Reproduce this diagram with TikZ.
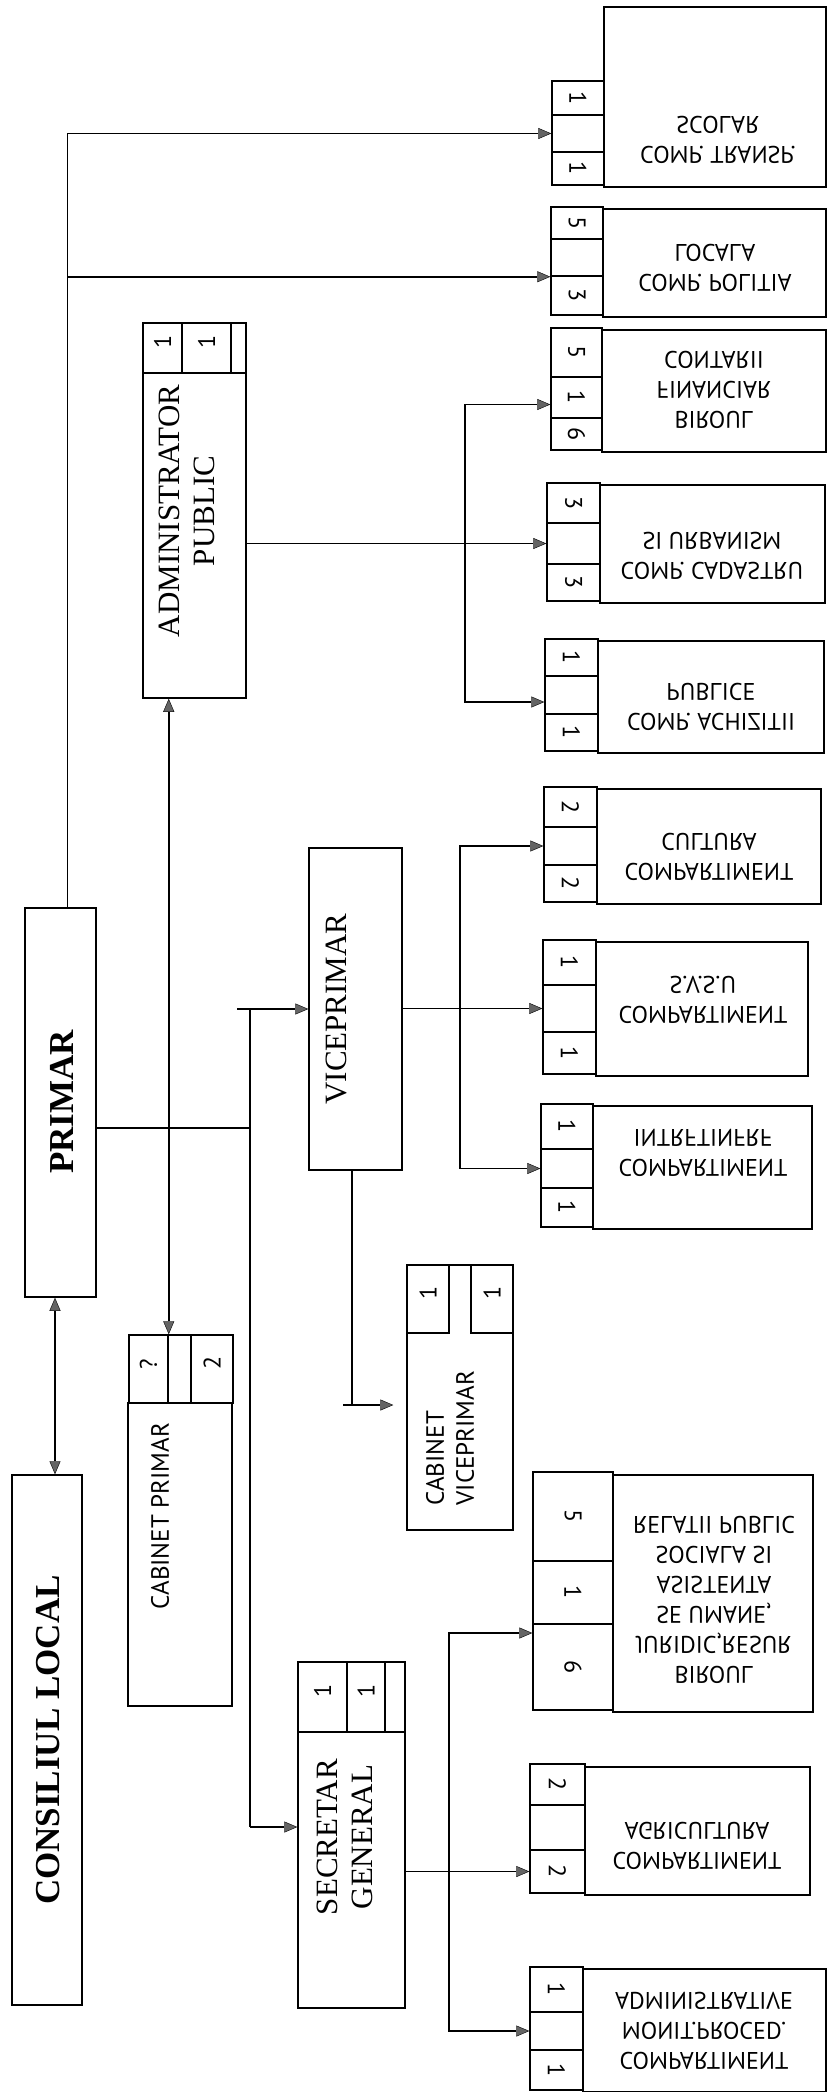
\documentclass[tikz,border=0pt]{standalone}
\usepackage{fontspec}
\setmainfont{Liberation Serif}
\newfontfamily\sansf{PT Sans}
\usepackage{graphicx}
\usetikzlibrary{arrows.meta, fit}
\definecolor{tipgray}{RGB}{100,100,100}
\newcommand{\flipped}[1]{\scalebox{1}[-1]{\begin{tabular}{@{}c@{}}#1\end{tabular}}}
\tikzset{
    box/.style={draw, line width=1.5pt, inner sep=0pt},
    cell/.style={box, font=\sansf\fontsize{24}{28}\selectfont},
    chief/.style={font=\bfseries\fontsize{35}{40}\selectfont, rotate=90},
    head/.style={font=\fontsize{31}{35}\selectfont, align=center, rotate=90},
    cabinet/.style={font=\sansf\fontsize{25}{30}\selectfont, align=left, rotate=90},
    dept/.style={font=\sansf\fontsize{24}{30}\selectfont},
    link/.style={draw=black, line width=1.6pt},
    arrow/.style={link, -{Triangle[length=13pt, width=11pt, fill=tipgray, line width=0.4pt]}},
    dblarrow/.style={link, {Triangle[length=13pt, width=11pt, fill=tipgray, line width=0.4pt]}-{Triangle[length=13pt, width=11pt, fill=tipgray, line width=0.4pt]}}
}
\begin{document}
\begin{tikzpicture}[x=1pt, y=-1pt]
    \useasboundingbox (0,0) rectangle (828,2092);

    % leadership
    \node (consiliu) [box, fit={(12,1475) (82,2005)}] {};
    \node (consiliuT) [chief] at (48,1740) {CONSILIUL LOCAL};
    \node (primar) [box, fit={(25,908) (96,1297)}] {};
    \node (primarT) [chief] at (62,1102) {PRIMAR};

    \node (admin-1) [cell, fit={(143,323) (182,373)}] {\rotatebox{90}{1}};
    \node (admin-2) [cell, fit={(182,323) (231,373)}] {\rotatebox{90}{1}};
    \node (admin-3) [cell, fit={(231,323) (246,373)}] {};
    \node (admin) [box, fit={(143,373) (246,698)}] {};
    \node (adminT) [head] at (187,511) {ADMINISTRATOR\\PUBLIC};

    \node (cabP-1) [cell, fit={(129,1335) (168,1403)}] {\rotatebox{90}{?}};
    \node (cabP-2) [cell, fit={(168,1335) (191,1403)}] {};
    \node (cabP-3) [cell, fit={(191,1335) (233,1403)}] {\rotatebox{90}{2}};
    \node (cabP) [box, fit={(128,1403) (232,1706)}] {};
    \node (cabPT) [cabinet] at (160,1516) {CABINET PRIMAR};

    \node (vice) [box, fit={(309,848) (402,1170)}] {};
    \node (viceT) [head] at (336,1009) {VICEPRIMAR};

    \node (cabV) [box, fit={(407,1265) (513,1530)}] {};
    \node (cabV-1) [cell, fit={(407,1265) (449,1333)}] {\rotatebox{90}{1}};
    \node (cabV-2) [cell, fit={(471,1265) (513,1333)}] {\rotatebox{90}{1}};
    \node (cabVT) [cabinet] at (450,1438) {CABINET\\VICEPRIMAR};

    \node (secr-1) [cell, fit={(298,1662) (347,1732)}] {\rotatebox{90}{1}};
    \node (secr-2) [cell, fit={(347,1662) (385,1732)}] {\rotatebox{90}{1}};
    \node (secr-3) [cell, fit={(385,1662) (405,1732)}] {};
    \node (secr) [box, fit={(298,1732) (405,2008)}] {};
    \node (secrT) [head] at (345,1837) {SECRETAR\\GENERAL};

    % compartments: number column + body
    \foreach \nm/\xa/\xb/\xc/\yt/\ya/\yb/\yc/\yd/\na/\nb/\nc in {
        transp/552/604/826/7/81/115/152/185/1/{}/1,
        politia/551/603/826/209/207/239/276/315/5/{}/3,
        birF/551/602/826/330/328/377/418/450/5/1/6,
        cad/547/600/825/485/483/523/564/601/3/{}/3,
        acz/545/598/824/641/639/676/714/751/1/{}/1,
        cult/544/597/821/789/787/827/865/902/2/{}/2,
        svsu/543/596/808/942/940/985/1032/1074/1/{}/1,
        intr/541/593/812/1106/1104/1149/1188/1227/1/{}/1,
        birJ/533/613/813/1475/1472/1561/1624/1710/5/1/6,
        agri/530/585/810/1767/1764/1805/1850/1893/2/{}/2,
        monit/530/583/826/1969/1967/2012/2050/2090/1/{}/1} {
        \node (\nm) [box, fit={(\xb,\yt) (\xc,\yd+2)}] {};
        \node (\nm-1) [cell, fit={(\xa,\ya) (\xb,\yb)}] {\rotatebox{-90}{\na}};
        \node (\nm-2) [cell, fit={(\xa,\yb) (\xb,\yc)}] {\rotatebox{-90}{\nb}};
        \node (\nm-3) [cell, fit={(\xa,\yc) (\xb,\yd)}] {\rotatebox{-90}{\nc}};
    }

    \node (transpT) [dept] at (718,138) {\flipped{COMP. TRANSP.\\SCOLAR}};
    \node (politiaT) [dept] at (715,265) {\flipped{COMP. POLITIA\\LOCALA}};
    \node (birFT) [dept] at (714,387) {\flipped{BIROUL\\FINANCIAR\\CONTARII}};
    \node (cadT) [dept] at (712,553) {\flipped{COMP. CADASTRU\\SI URBANISM}};
    \node (aczT) [dept] at (711,704) {\flipped{COMP. ACHIZITII\\PUBLICE}};
    \node (cultT) [dept] at (709,854) {\flipped{COMPARTIMENT\\CULTURA}};
    \node (svsuT) [dept] at (703,997) {\flipped{COMPARTIMENT\\S.V.S.U}};
    \node (intrT) [dept] at (703,1150) {\flipped{COMPARTIMENT\\INTRFTINFRF}};
    \node (birJT) [dept] at (714,1597) {\flipped{BIROUL\\JURIDIC,RESUR\\SE UMANE,\\ASISTENTA\\SOCIALA SI\\RELATII PUBLIC}};
    \node (agriT) [dept] at (697,1843) {\flipped{COMPARTIMENT\\AGRICULTURA}};
    \node (monitT) [dept] at (704,2028) {\flipped{COMPARTIMENT\\MONIT.PROCED.\\ADMINISTRATIVE}};

    % connectors
    \coordinate (busA) at (465,0);
    \coordinate (busV) at (460,0);
    \coordinate (busS) at (449,0);
    \coordinate (trunkV) at (250,1009);
    \coordinate (trunkS) at (250,1827);
    \coordinate (jC) at (352,1405);

    \draw [dblarrow] ([xshift=8pt]consiliu.north) -- ([xshift=8pt]consiliu.north |- primar.south);
    \draw [arrow] ([xshift=7pt]primar.north) |- (transp-2.west);
    \draw [arrow] ([xshift=7pt]primar.north |- politia-2.south west) -- (politia-2.south west);

    \draw [link] ([yshift=-25.5pt]primar.east) -- ([yshift=-25.5pt]primar.east -| trunkV);
    \draw [link] (trunkV) -- (trunkS);
    \draw [arrow] ([xshift=-13pt]trunkV) -- (vice.west);
    \draw [arrow] (trunkS) -- (trunkS -| secr.west);
    \draw [dblarrow] (cabP-1.north east) -- (cabP-1.north east |- admin.south);

    \draw [arrow] (admin.east |- cad-2.west) -- (cad-2.west);
    \draw [arrow] (busA |- cad-2.west) |- ([yshift=-7pt]birF-2.west);
    \draw [arrow] (busA |- cad-2.west) |- ([yshift=-7pt]acz-2.west);

    \draw [arrow] (vice.east |- svsu-2.west) -- (svsu-2.west);
    \draw [arrow] (busV |- svsu-2.west) |- (cult-2.west);
    \draw [arrow] (busV |- svsu-2.west) |- (intr-2.west);
    \draw [link] ([xshift=-3.5pt]vice.south) -- (jC);
    \draw [arrow, shorten >=13pt] ([xshift=-9pt]jC) -- (jC -| cabV.west);

    \draw [arrow] (secr.east |- agri-3.west) -- (agri-3.west);
    \draw [arrow] (busS |- agri-3.west) |- ([yshift=34pt]birJ-3.west);
    \draw [arrow] (busS |- agri-3.west) |- (monit-2.west);
\end{tikzpicture}
\end{document}
